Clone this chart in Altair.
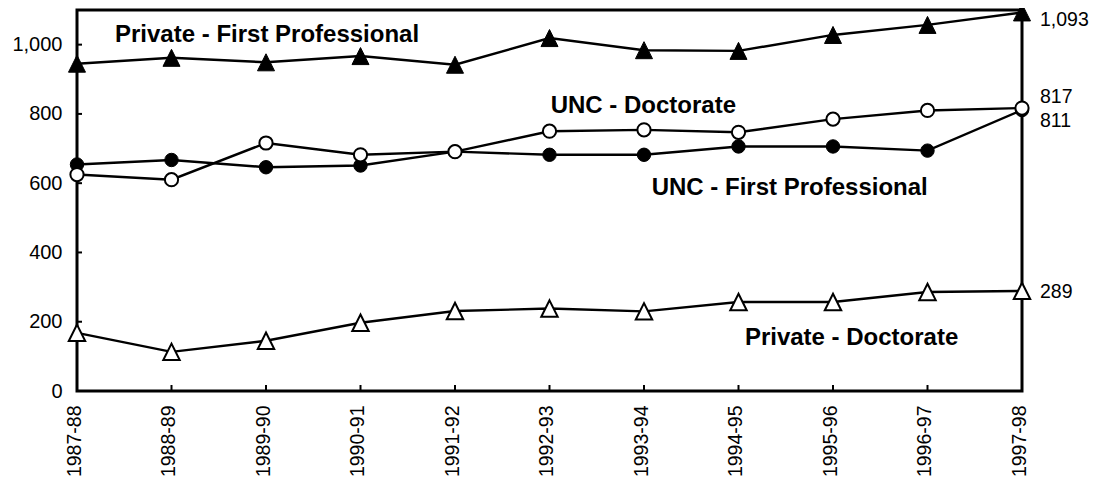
import altair as alt
import pandas as pd

# ---------------- data ----------------
years = ["1987-88", "1988-89", "1989-90", "1990-91", "1991-92", "1992-93",
         "1993-94", "1994-95", "1995-96", "1996-97", "1997-98"]
private_first_prof = [945, 962, 949, 967, 942, 1019, 984, 982, 1028, 1057, 1093]
unc_first_prof = [654, 667, 646, 651, 691, 682, 682, 706, 706, 694, 811]
unc_doctorate = [625, 610, 716, 682, 691, 750, 754, 747, 785, 810, 817]
private_doctorate = [168, 113, 145, 197, 231, 238, 230, 257, 257, 286, 289]

series_names = ["Private - First Professional", "UNC - First Professional",
                "UNC - Doctorate", "Private - Doctorate"]
end_labels = ["1,093", "811", "817", "289"]
y_tick_values = [0, 200, 400, 600, 800, 1000]

# ---------------- layout / style ----------------
W, H = 945, 381
FONT = "Liberation Sans"
TRI = "M0,-1L1,1L-1,1Z"

x_scale = alt.Scale(type="point", domain=years, padding=0)
y_scale = alt.Scale(domain=[0, 1100], nice=False, zero=True)
x_axis = alt.Axis(title=None, labelAngle=270, labelFontSize=19.5, labelFont=FONT,
                  labelColor="black", ticks=False, domain=False, grid=False,
                  labelPadding=14, labelOffset=-3, labelOverlap=False)
y_axis = alt.Axis(title=None, values=y_tick_values, format=",.0f", labelFontSize=20,
                  labelFont=FONT, labelColor="black", ticks=False, domain=False,
                  grid=False, labelPadding=15, labelOverlap=False)

def X():
    return alt.X("year:O", scale=x_scale, axis=x_axis, sort=years)

def Y():
    return alt.Y("value:Q", scale=y_scale, axis=y_axis)

series_values = [private_first_prof, unc_first_prof, unc_doctorate, private_doctorate]
marker_style = [
    dict(shape=TRI, size=290, fill="black", strokeWidth=1),
    dict(shape="circle", size=180, fill="black", strokeWidth=1),
    dict(shape="circle", size=175, fill="white", strokeWidth=2),
    dict(shape=TRI, size=270, fill="white", strokeWidth=2),
]

layers = []

# inward tick marks
layers.append(
    alt.Chart(pd.DataFrame({"year": years})).mark_rule(color="black", strokeWidth=2)
    .encode(x=X(), y=alt.value(H), y2=alt.value(H - 6))
)
layers.append(
    alt.Chart(pd.DataFrame({"value": y_tick_values})).mark_rule(color="black", strokeWidth=2)
    .encode(y=Y(), x=alt.value(0), x2=alt.value(5))
)

for name, vals in zip(series_names, series_values):
    df = pd.DataFrame({"year": years, "value": vals, "series": name})
    layers.append(
        alt.Chart(df).mark_line(color="black", strokeWidth=2.4).encode(x=X(), y=Y())
    )

for name, vals, st in zip(series_names, series_values, marker_style):
    df = pd.DataFrame({"year": years, "value": vals, "series": name})
    layers.append(
        alt.Chart(df).mark_point(shape=st["shape"], size=st["size"], filled=True,
                                 fill=st["fill"], stroke="black",
                                 strokeWidth=st["strokeWidth"], opacity=1)
        .encode(x=X(), y=Y())
    )

# series name labels (bold)
name_pos = [
    dict(x=38, y=31.7, align="left"),
    dict(x=574.7, y=185, align="left"),
    dict(x=473.7, y=103.3, align="left"),
    dict(x=881.3, y=335, align="right"),
]
for name, p in zip(series_names, name_pos):
    layers.append(
        alt.Chart(pd.DataFrame({"label": [name]}))
        .mark_text(font=FONT, fontSize=24, fontWeight="bold", color="black",
                   align=p["align"], baseline="alphabetic")
        .encode(text="label:N", x=alt.value(p["x"]), y=alt.value(p["y"]))
    )

# end-value labels
end_dy = [13.5, 16.6, -4.7, 7.4]
for lab, vals, dy in zip(end_labels, series_values, end_dy):
    df = pd.DataFrame({"year": [years[-1]], "value": [vals[-1]], "label": [lab]})
    layers.append(
        alt.Chart(df).mark_text(font=FONT, fontSize=19.5, color="black", align="left",
                                baseline="alphabetic", dx=18, dy=dy)
        .encode(x=X(), y=Y(), text="label:N")
    )

chart = (
    alt.layer(*layers)
    .properties(width=W, height=H,
                autosize=alt.AutoSizeParams(type="none"),
                padding={"left": 69, "top": 2, "right": 70, "bottom": 88},
                background="white")
    .configure_view(stroke="black", strokeWidth=3)
)

chart.save("out.html", embed_options={"renderer": "svg", "actions": False})
